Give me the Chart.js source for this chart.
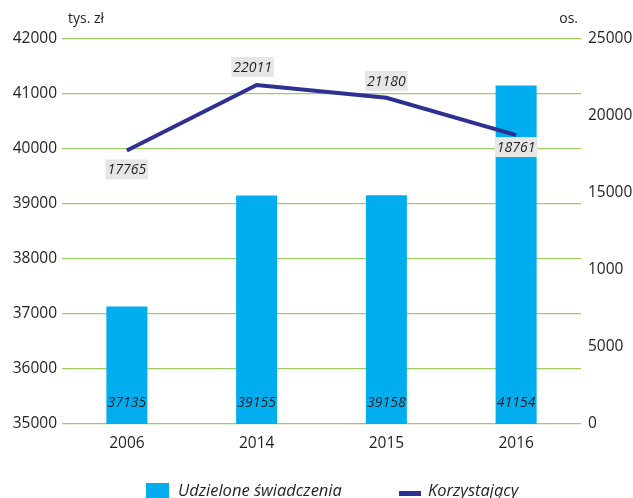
<!DOCTYPE html>
<html>
<head>
<meta charset="utf-8">
<script src="https://cdn.jsdelivr.net/npm/chart.js@4/dist/chart.umd.min.js"></script>
<style>
html,body{margin:0;padding:0;background:#fff;}
#wrap{width:633px;height:498px;position:relative;}
</style>
</head>
<body>
<div id="wrap"><canvas id="c" width="633" height="498"></canvas></div>
<script>
// ---- data ----
const categories = ['2006', '2014', '2015', '2016'];
const benefitsValues = [37135, 39155, 39158, 41154];   // Udzielone świadczenia (tys. zł)
const beneficiariesValues = [17765, 22011, 21180, 18761]; // Korzystający (os.)
const leftTickLabels = ['35000','36000','37000','38000','39000','40000','41000','42000'];
const rightTickLabels = ['0','5000','1000','15000','20000','25000'];
const seriesNames = ['Udzielone świadczenia', 'Korzystający'];
const leftAxisTitle = 'tys. zł';
const rightAxisTitle = 'os.';

const BAR_COLOR = '#00AEEF';
const LINE_COLOR = '#2E3192';
const GRID_COLOR = '#9CCD5E';
const TEXT_COLOR = '#231F20';
const FONT = "'Open Sans', 'DejaVu Sans', sans-serif";

const extrasPlugin = {
  id: 'extras',
  afterDatasetsDraw(chart, args, opts) {
    const ctx = chart.ctx;
    const area = chart.chartArea;
    ctx.save();
    // bar value labels
    const barMeta = chart.getDatasetMeta(0);
    ctx.font = 'italic 14px ' + FONT;
    ctx.textAlign = 'center';
    ctx.textBaseline = 'middle';
    barMeta.data.forEach((el, i) => {
      ctx.fillStyle = TEXT_COLOR;
      ctx.fillText(String(chart.data.datasets[0].data[i]), el.x, area.bottom - 21);
    });
    // line value labels with grey background
    const lineMeta = chart.getDatasetMeta(1);
    lineMeta.data.forEach((el, i) => {
      const txt = String(chart.data.datasets[1].data[i]);
      const cx = el.x + opts.lineDx[i];
      const cy = el.y + opts.lineDy[i];
      const w = ctx.measureText(txt).width + 4;
      const h = 20;
      ctx.fillStyle = '#E6E6E6';
      ctx.fillRect(cx - w / 2, cy - h / 2, w, h);
      ctx.fillStyle = TEXT_COLOR;
      ctx.fillText(txt, cx, cy + 1);
    });
    ctx.restore();
  },
  afterDraw(chart) {
    const ctx = chart.ctx;
    const area = chart.chartArea;
    ctx.save();
    // axis unit titles
    ctx.font = '14px ' + FONT;
    ctx.fillStyle = TEXT_COLOR;
    ctx.textBaseline = 'middle';
    ctx.textAlign = 'left';
    ctx.fillText(leftAxisTitle, area.left + 6, 19);
    ctx.textAlign = 'right';
    ctx.fillText(rightAxisTitle, area.right - 3, 19);
    // legend
    ctx.font = 'italic 16.5px ' + FONT;
    ctx.textAlign = 'left';
    ctx.fillStyle = BAR_COLOR;
    ctx.fillRect(146, 483, 23, 16);
    ctx.fillStyle = TEXT_COLOR;
    ctx.fillText(chart.data.datasets[0].label, 178, 491);
    ctx.fillStyle = LINE_COLOR;
    ctx.fillRect(399, 491, 22, 5);
    ctx.fillStyle = TEXT_COLOR;
    ctx.fillText(chart.data.datasets[1].label, 428, 491);
    ctx.restore();
  }
};

new Chart(document.getElementById('c'), {
  data: {
    labels: categories,
    datasets: [
      {
        type: 'bar',
        label: seriesNames[0],
        data: benefitsValues,
        backgroundColor: BAR_COLOR,
        borderWidth: 0,
        yAxisID: 'y',
        order: 2,
        categoryPercentage: 1,
        barPercentage: 0.316
      },
      {
        type: 'line',
        label: seriesNames[1],
        data: beneficiariesValues,
        borderColor: LINE_COLOR,
        backgroundColor: LINE_COLOR,
        borderWidth: 4,
        pointRadius: 0,
        tension: 0,
        fill: false,
        yAxisID: 'y1',
        order: 1
      }
    ]
  },
  options: {
    responsive: false,
    animation: false,
    events: [],
    layout: { padding: { top: 39, left: 0, right: 0, bottom: 0 } },
    plugins: {
      legend: { display: false },
      tooltip: { enabled: false },
      extras: { lineDx: [0, -4, 0, 0], lineDy: [19, -18, -17, 12] }
    },
    scales: {
      x: {
        grid: { display: false, drawTicks: false },
        border: { display: false },
        ticks: { font: { family: FONT, size: 15.5 }, color: TEXT_COLOR, padding: 10 },
        afterFit(s) { s.height = 74; }
      },
      y: {
        position: 'left',
        min: 35000, max: 42000,
        ticks: {
          stepSize: 1000,
          font: { family: FONT, size: 15.5 }, color: TEXT_COLOR, padding: 5,
          callback: (v, i) => leftTickLabels[i]
        },
        grid: { color: GRID_COLOR, lineWidth: 1.3, drawTicks: false },
        border: { display: false },
        afterFit(s) { s.width = 62; }
      },
      y1: {
        position: 'right',
        min: 0, max: 25000,
        ticks: {
          stepSize: 5000,
          font: { family: FONT, size: 15.5 }, color: TEXT_COLOR, padding: 7,
          callback: (v, i) => rightTickLabels[i]
        },
        grid: { display: false, drawTicks: false },
        border: { display: false },
        afterFit(s) { s.width = 52; }
      }
    }
  },
  plugins: [extrasPlugin]
});
</script>
</body>
</html>
